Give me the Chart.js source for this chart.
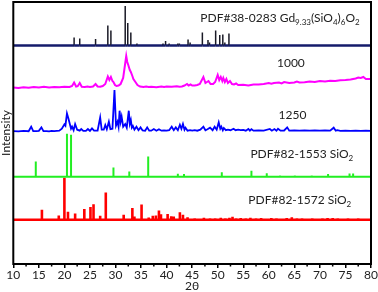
<!DOCTYPE html>
<html lang="en">
<head>
<meta charset="UTF-8">
<title>XRD</title>
<style>
  html, body { margin: 0; padding: 0; background: #fff; }
  #wrap { width: 378px; height: 292px; }
</style>
</head>
<body>
<div id="wrap"><canvas id="xrd"></canvas></div>
<script src="https://cdn.jsdelivr.net/npm/chart.js"></script>
<script>
// PDF#38-0283 Gd9.33(SiO4)6O2 reference sticks (2theta, height)
const gdAngles  = [21.9, 23.0, 26.1, 28.5, 29.1, 31.9, 32.4, 33.0, 34.2, 39.3, 39.8, 40.5, 42.2, 42.5, 44.2, 44.6, 47.0, 48.1, 48.4, 49.6, 50.4, 51.0, 51.4, 52.2];
const gdHeights = [8, 7, 6.5, 20, 15, 39.5, 22.5, 13, 2, 2, 4.5, 2, 2, 2, 6, 3, 13, 5.5, 3, 15, 10.5, 11, 3, 12];

// sample 1000
const s1000Angles = [10, 11, 12, 13, 14, 15, 16, 17, 18, 19, 20, 21, 21.5, 21.9, 22.3, 22.6, 23.0, 23.4, 24, 24.5, 25, 25.6, 26.1, 26.5, 27, 27.5, 28, 28.5, 28.8, 29.1, 29.4, 29.6, 29.9, 30.2, 30.6, 31, 31.5, 32.1, 32.3, 32.5, 32.8, 33.0, 33.3, 33.5, 33.9, 34.3, 34.8, 35.5, 36, 36.5, 37, 38, 39, 39.5, 40, 41, 42, 42.5, 43, 43.5, 44, 44.3, 44.7, 45, 45.5, 46, 46.5, 47.2, 47.6, 48.2, 48.6, 49.1, 49.5, 50.0, 50.3, 50.6, 50.9, 51.1, 51.4, 51.7, 52.0, 52.4, 52.8, 53.2, 53.6, 54, 55, 56, 57, 58, 59, 60, 60.5, 61, 62, 62.5, 63, 64, 65, 65.5, 66, 67, 68, 69, 70, 71, 72, 73, 74, 75, 76, 77, 77.5, 78, 78.5, 79, 80];
const s1000Values = [0.5, 0, 0.8, 0.3, 1, 0.5, 1.2, 0.6, 1, 0.7, 1.2, 1, 2, 5.5, 1.5, 1.8, 5, 1.2, 1, 1.5, 1, 1.5, 4, 1.5, 1.2, 2, 4, 11.5, 8, 11, 7, 6, 3, 2, 2.5, 4, 10, 32, 26, 23, 18, 16, 12, 9, 6, 3, 1.5, 1, 1.5, 1, 1.2, 0.8, 1.5, 1, 1.5, 1.2, 1.8, 1.2, 1.5, 2.5, 4, 2.5, 3.5, 2.5, 2.5, 3, 4, 11, 5, 7, 4, 4, 6, 13, 8, 11, 7, 10, 6, 9, 5, 7, 4, 3.5, 4.5, 3, 3.2, 2.6, 3.5, 3.5, 4, 5, 4.3, 5, 5.5, 4.6, 6, 5, 5.5, 6.5, 5.5, 5.8, 6.5, 6, 7, 6.5, 7.2, 7, 7.8, 8, 8.5, 9.5, 10.5, 10, 11, 9, 9];

// sample 1250
const s1250Angles = [10, 11, 12, 13, 13.5, 13.9, 14.5, 15, 15.5, 15.9, 16.5, 17, 17.5, 18, 18.5, 19, 19.5, 20.0, 20.2, 20.5, 20.8, 21.1, 21.3, 21.5, 21.8, 22.1, 22.5, 23, 23.3, 23.7, 24.2, 24.6, 25, 25.4, 25.8, 26.5, 27.0, 27.3, 27.7, 28.0, 28.3, 28.7, 29.0, 29.4, 29.8, 30.1, 30.4, 30.6, 30.8, 31.0, 31.2, 31.5, 31.9, 32.2, 32.6, 32.8, 33.0, 33.2, 33.4, 33.7, 34.1, 34.5, 34.9, 35.3, 35.8, 36.2, 36.6, 37, 37.5, 38, 38.5, 39, 39.5, 40, 40.5, 41.0, 41.4, 41.8, 42.2, 42.6, 42.9, 43.2, 43.5, 43.7, 44.1, 44.6, 45, 45.5, 46, 46.6, 47.2, 47.6, 48.0, 48.5, 49, 49.4, 49.8, 50.2, 50.5, 50.7, 51.0, 51.2, 51.6, 52, 52.5, 53.1, 53.5, 54, 54.5, 55, 55.5, 56.0, 56.3, 56.6, 57, 58, 59, 60.2, 60.6, 61.1, 61.5, 61.8, 62.3, 63, 63.6, 64, 65, 66, 67, 68, 69, 70, 71, 72, 72.7, 73.1, 73.4, 74, 75, 76, 77, 78, 79, 80];
const s1250Values = [0.5, 0.3, 0.8, 0.5, 5, 0.6, 0.5, 0.8, 4.3, 0.5, 0.6, 0.4, 0.8, 0.5, 0.8, 1, 3, 7.3, 6, 18.3, 13, 7, 3, 5, 1.5, 7.7, 2, 1, 2.7, 0.8, 0.8, 2.7, 0.8, 3.3, 1, 1, 14.3, 2, 2, 6.7, 2.5, 10, 2.5, 3, 41.7, 6, 10, 5, 21, 10, 15, 5, 7.7, 4, 21, 8, 11.7, 4, 5.7, 2, 5, 1.5, 4.3, 1.2, 1, 4.3, 1, 1, 2.7, 1, 2.5, 1, 1.2, 1, 1.5, 5, 1.5, 4.3, 1.5, 7, 3, 7.7, 2, 4, 1, 1.5, 1, 1.5, 1, 2, 5, 1.5, 2.5, 4, 1.5, 5, 2, 9.3, 3, 5, 1.5, 3.7, 1.5, 2, 1.5, 3, 1.5, 2, 1.5, 1.8, 1, 2.7, 1, 2.5, 1, 1.2, 1, 2.7, 1, 2.7, 1, 3, 1, 1.2, 4.3, 1, 1.2, 1, 1.3, 1, 1.2, 1, 1.2, 1, 4, 1, 1.5, 0.8, 1, 0.8, 1, 0.8, 1, 0.8];

// PDF#82-1553 SiO2 sticks
const q1553Angles  = [14.4, 20.5, 21.3, 29.3, 29.6, 32.7, 36.4, 37.8, 42.2, 43.4, 50.8, 56.6, 59.6, 62.2, 65.1, 68.4, 71.6, 75.8, 76.5];
const q1553Heights = [15.3, 43, 42, 1, 9.3, 5.3, 20.3, 1, 3, 2.7, 4.5, 6, 3.5, 1.2, 1.2, 1.2, 2.7, 3.3, 3.3];

// PDF#82-1572 SiO2 sticks
const q1572Angles  = [15.6, 18.9, 20.0, 20.7, 22.1, 23.9, 25.1, 25.7, 27.0, 28.1, 31.6, 33.3, 33.7, 35.1, 36.5, 37.3, 37.9, 38.5, 38.9, 40.2, 40.9, 41.4, 42.6, 43.2, 44.1, 45.5, 46.5, 47.3, 48.5, 49.5, 50.6, 51.5, 52.3, 52.9, 53.6, 54.5, 55.5, 56.4, 57.5, 58.5, 59.5, 60.5, 61.5, 62.5, 63.5, 64.5, 65.5, 66.5, 67.5, 68.5, 69.5, 70.5, 71.5, 72.5, 73.5, 74.5, 75.5, 76.5, 77.5, 78.5];
const q1572Heights = [10, 4.3, 42, 8, 6.3, 10.7, 12.7, 15.5, 4, 27.3, 5, 11.7, 3.3, 15.3, 2.3, 4, 4.3, 9.3, 5.5, 5.8, 3.5, 3.3, 7.5, 5, 2.5, 1.5, 1.2, 2, 1.5, 1.5, 2, 1.5, 2, 3, 1.5, 1.8, 1.5, 2, 1.5, 1.8, 1.2, 1.8, 1.5, 1.2, 1.8, 2.5, 1.5, 1.5, 1.2, 1.5, 1.2, 1.5, 1.8, 1.8, 1.5, 1.2, 1.5, 1.2, 1.5, 1.2];

// vertical offsets of the stacked patterns (top to bottom)
const traceOffsets = [218.5, 176, 132.3, 87.3, 44.3];
const xTicks = [10, 15, 20, 25, 30, 35, 40, 45, 50, 55, 60, 65, 70, 75, 80];
const xMinorTicks = [12.5, 17.5, 22.5, 27.5, 32.5, 37.5, 42.5, 47.5, 52.5, 57.5, 62.5, 67.5, 72.5, 77.5];

function sticks(angles, heights, base) {
    let pts = [{x: 10, y: base}];
    for (let i = 0; i < angles.length; i++) {
        pts.push({x: angles[i], y: base});
        pts.push({x: angles[i], y: base + heights[i]});
        pts.push({x: angles[i], y: base});
    }
    pts.push({x: 80, y: base});
    return pts;
}

function trace(angles, values, base) {
    return angles.map((a, i) => ({x: a, y: base + values[i]}));
}

const isVert = c => c.p0.parsed.x === c.p1.parsed.x;

// labels next to each pattern, with subscripts
const labelPlugin = {
    id: 'labels',
    afterDraw(chart) {
        const ctx = chart.ctx;
        const xs = chart.scales.x, ys = chart.scales.y;
        const items = [
            {x: 46.6, y: 246, parts: [['PDF#38-0283 Gd'], ['9.33', 1], ['(SiO'], ['4', 1], [')'], ['6', 1], ['O'], ['2', 1]]},
            {x: 61.6, y: 201, parts: [['1000']]},
            {x: 61.9, y: 149, parts: [['1250']]},
            {x: 56.4, y: 110, parts: [['PDF#82-1553 SiO'], ['2', 1]]},
            {x: 56.0, y: 64, parts: [['PDF#82-1572 SiO'], ['2', 1]]}
        ];
        ctx.save();
        ctx.fillStyle = '#222';
        ctx.textBaseline = 'middle';
        ctx.textAlign = 'left';
        items.forEach(it => {
            let px = xs.getPixelForValue(it.x);
            const py = ys.getPixelForValue(it.y);
            it.parts.forEach(p => {
                ctx.font = p[1] ? '8px Lato' : '12px Lato';
                ctx.fillText(p[0], px, p[1] ? py + 4 : py);
                px += ctx.measureText(p[0]).width;
            });
        });
        // y axis title
        const a = chart.chartArea;
        ctx.font = '12px Lato';
        ctx.textAlign = 'center';
        ctx.translate(6.5, (a.top + a.bottom) / 2);
        ctx.rotate(-Math.PI / 2);
        ctx.fillText('Intensity', 0, 0);
        ctx.restore();
    }
};

const framePlugin = {
    id: 'frame',
    afterDraw(chart) {
        const a = chart.chartArea, ctx = chart.ctx, xs = chart.scales.x;
        ctx.save();
        ctx.strokeStyle = '#000';
        ctx.lineWidth = 2;
        ctx.strokeRect(a.left, a.top, a.right - a.left, a.bottom - a.top);
        ctx.lineWidth = 1.5;
        ctx.beginPath();
        xMinorTicks.forEach(v => {
            const px = xs.getPixelForValue(v);
            ctx.moveTo(px, a.bottom);
            ctx.lineTo(px, a.bottom + 2.5);
        });
        ctx.stroke();
        ctx.restore();
    }
};

const ctx = document.getElementById('xrd');
new Chart(ctx, {
    type: 'line',
    data: {
        datasets: [
            {
                data: sticks(gdAngles, gdHeights, traceOffsets[0]),
                borderColor: '#141b6b',
                segment: {
                    borderColor: c => isVert(c) ? '#1a1a26' : '#141b6b',
                    borderWidth: c => isVert(c) ? 1.5 : 2.5
                }
            },
            { data: trace(s1000Angles, s1000Values, traceOffsets[1]), borderColor: '#ff00ff', borderWidth: 2 },
            { data: trace(s1250Angles, s1250Values, traceOffsets[2]), borderColor: '#0000ff', borderWidth: 1.8 },
            { data: sticks(q1553Angles, q1553Heights, traceOffsets[3]), borderColor: '#22ee22', borderWidth: 2 },
            { data: sticks(q1572Angles, q1572Heights, traceOffsets[4]), borderColor: '#ff0000', borderWidth: 2.6 }
        ]
    },
    options: {
        responsive: true,
        maintainAspectRatio: false,
        animation: false,
        elements: {
            point: { radius: 0 },
            line: { tension: 0, borderJoinStyle: 'miter' }
        },
        layout: { padding: { top: 2, right: 7, left: 13.3, bottom: 0 } },
        plugins: {
            legend: { display: false },
            tooltip: { enabled: false }
        },
        scales: {
            x: {
                type: 'linear',
                min: 10,
                max: 80,
                border: { display: false },
                grid: { drawOnChartArea: false, drawTicks: true, tickLength: 4, color: '#000', lineWidth: 1.5 },
                afterBuildTicks: s => { s.ticks = xTicks.map(v => ({value: v})); },
                afterFit: s => { s.height = 28; s.paddingLeft = 0; s.paddingRight = 0; },
                ticks: {
                    autoSkip: false,
                    maxRotation: 0,
                    padding: 1.5,
                    color: '#222',
                    font: { family: 'Lato', size: 12, lineHeight: 1 }
                },
                title: {
                    display: true,
                    text: '2θ',
                    color: '#222',
                    padding: { top: 0, bottom: 0 },
                    font: { family: 'Lato', size: 12, lineHeight: 0.9 }
                }
            },
            y: {
                display: false,
                min: 0,
                max: 262
            }
        }
    },
    plugins: [labelPlugin, framePlugin]
});
</script>
</body>
</html>
